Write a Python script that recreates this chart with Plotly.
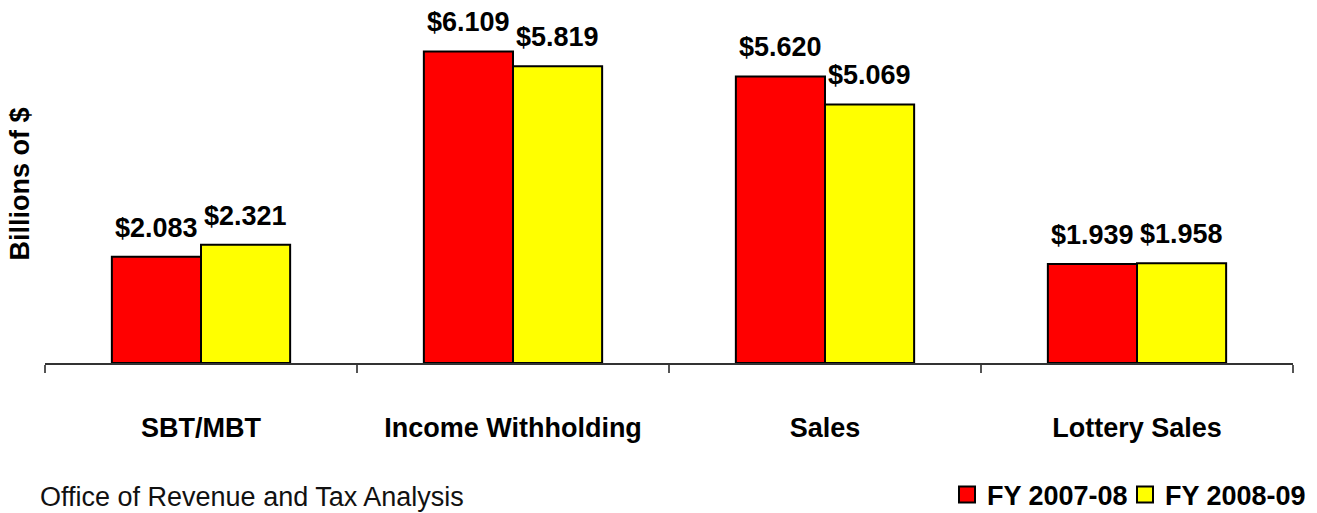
import plotly.graph_objects as go

categories = ["SBT/MBT", "Income Withholding", "Sales", "Lottery Sales"]
fy0708 = [2.083, 6.109, 5.620, 1.939]
fy0809 = [2.321, 5.819, 5.069, 1.958]
series_names = ["FY 2007-08", "FY 2008-09"]
series_colors = ["#FF0000", "#FFFF00"]
source_note = "Office of Revenue and Tax Analysis"
y_title = "Billions of $"

FONT = "Liberation Sans, Arial, sans-serif"
FS = 27
BARGAP = 1.5 / 3.5
W, H = 1317, 513
ML, MR, MT, MB = 45, 24, 6, 150
PW, PH = W - ML - MR, H - MT - MB

fig = go.Figure()
for name, vals, col in zip(series_names, [fy0708, fy0809], series_colors):
    fig.add_trace(go.Bar(
        x=categories, y=vals, name=name, showlegend=False,
        marker=dict(color=col, line=dict(color="black", width=2)),
        hoverinfo="skip",
    ))
# legend-only entries with larger square swatches, one legend each for exact placement
legend_ids = ["legend", "legend2"]
for name, col, lid in zip(series_names, series_colors, legend_ids):
    fig.add_trace(go.Scatter(
        x=[None], y=[None], name=name, mode="markers", legend=lid,
        marker=dict(symbol="square", size=19, color=col, line=dict(color="black", width=2)),
        hoverinfo="skip",
    ))

annotations = []
for j, vals in enumerate([fy0708, fy0809]):
    for i, v in enumerate(vals):
        annotations.append(dict(
            x=i + (j - 0.5) * (1 - BARGAP) / 2, y=v, xref="x", yref="y",
            text=f"${v:.3f}", showarrow=False, yanchor="bottom", yshift=12,
            font=dict(family=FONT, size=FS, color="black", weight="bold"),
        ))

annotations.append(dict(
    x=0, y=0.5, xref="paper", yref="paper", xshift=-26,
    text=f"<b>{y_title}</b>", textangle=-90, showarrow=False,
    xanchor="center", yanchor="middle",
    font=dict(family=FONT, size=FS, color="black"),
))
annotations.append(dict(
    x=(38 - ML) / PW, y=(H - MB - 497) / PH, xref="paper", yref="paper",
    text=source_note, showarrow=False, xanchor="left", yanchor="middle",
    font=dict(family=FONT, size=FS, color="#111111"),
))

legend_common = dict(
    orientation="h", yref="container", xref="container", y=1 - 495 / H,
    yanchor="middle", xanchor="left",
    font=dict(family=FONT, size=FS, color="black", weight="bold"),
    itemsizing="trace", bgcolor="rgba(0,0,0,0)",
)

fig.update_layout(
    width=W, height=H,
    margin=dict(l=ML, r=MR, t=MT, b=MB, autoexpand=False),
    paper_bgcolor="white", plot_bgcolor="white",
    barmode="group", bargap=BARGAP, bargroupgap=0,
    showlegend=True,
    legend=dict(x=(987 - 40) / W, **legend_common),
    legend2=dict(x=(1165 - 40) / W, **legend_common),
    annotations=annotations,
    font=dict(family=FONT),
)
fig.update_xaxes(
    type="category", showline=True, linecolor="#333333", linewidth=1.5,
    ticks="outside", tickson="boundaries", ticklen=8, tickcolor="#555555", tickwidth=1.5,
    tickfont=dict(family=FONT, size=FS, color="black", weight="bold"),
    ticklabelstandoff=40, showgrid=False, zeroline=False, automargin=False,
)
fig.update_yaxes(
    range=[0, 7], visible=False, showgrid=False, zeroline=False,
)
fig.write_html("out.html", config={"displayModeBar": False},
               post_script="document.body.style.margin='0';")
